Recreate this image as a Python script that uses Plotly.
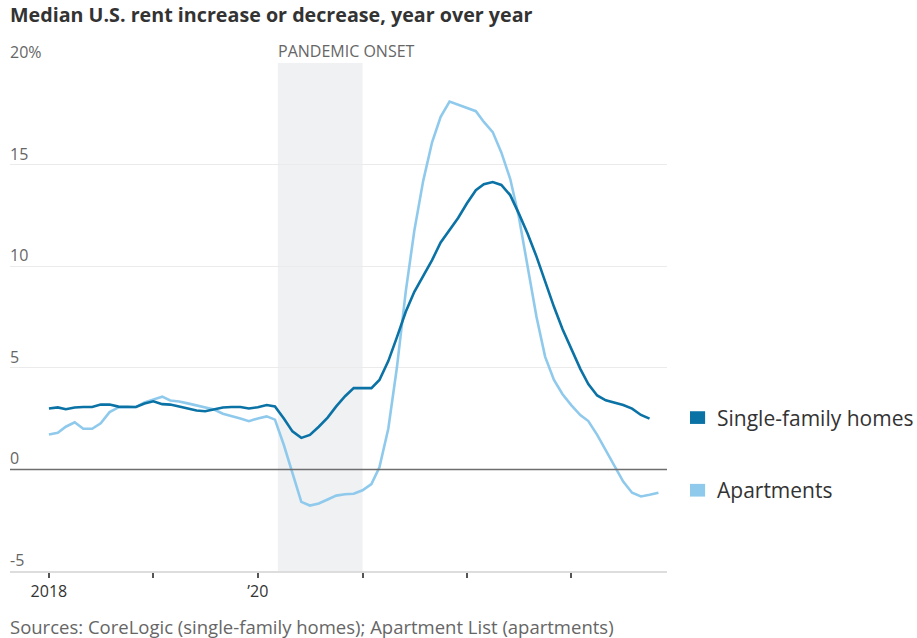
import pandas as pd
import plotly.graph_objects as go

# ---- Data (monthly, starting Jan 2018) ----
single_family = [
    3.0, 3.05, 2.96, 3.05, 3.07, 3.07, 3.19, 3.19, 3.09, 3.07, 3.07, 3.24,   # 2018
    3.35, 3.21, 3.19, 3.1, 3.0, 2.9, 2.86, 2.94, 3.05, 3.07, 3.07, 3.0,      # 2019
    3.06, 3.17, 3.1, 2.5, 1.87, 1.55, 1.7, 2.1, 2.55, 3.1, 3.6, 4.0,         # 2020
    4.0, 4.0, 4.4, 5.33, 6.5, 7.76, 8.74, 9.5, 10.3, 11.17, 11.8, 12.37,     # 2021
    13.1, 13.74, 14.03, 14.14, 14.0, 13.5, 12.6, 11.6, 10.47, 9.25, 8.0, 6.9,  # 2022
    5.9, 4.95, 4.2, 3.64, 3.4, 3.29, 3.17, 2.99, 2.68, 2.5,                  # 2023
]
apartments = [
    1.72, 1.8, 2.1, 2.32, 2.0, 2.0, 2.27, 2.82, 3.05, 3.07, 3.07, 3.3,       # 2018
    3.45, 3.58, 3.39, 3.34, 3.25, 3.14, 3.03, 2.95, 2.74, 2.64, 2.5, 2.37,   # 2019
    2.51, 2.61, 2.45, 1.2, -0.2, -1.6, -1.78, -1.68, -1.48, -1.29, -1.22, -1.2,  # 2020
    -1.03, -0.72, 0.1, 2.0, 5.0, 8.75, 11.75, 14.2, 16.1, 17.35, 18.1, 17.95,  # 2021
    17.8, 17.63, 17.1, 16.6, 15.6, 14.3, 12.45, 10.05, 7.5, 5.55, 4.4, 3.7,  # 2022
    3.15, 2.67, 2.38, 1.7, 0.95, 0.15, -0.6, -1.15, -1.33, -1.25, -1.15,     # 2023
]
series_names = ["Single-family homes", "Apartments"]
y_ticks = [20, 15, 10, 5, 0, -5]
y_tick_labels = ["20%", "15", "10", "5", "0", "-5"]
x_tick_years = ["2018-01-01", "2019-01-01", "2020-01-01", "2021-01-01", "2022-01-01", "2023-01-01"]
x_tick_labels = ["2018", "", "\u201920", "", "", ""]
pandemic_span = ["2020-03-11", "2021-01-01"]

dates_sf = pd.date_range("2018-01-01", periods=len(single_family), freq="MS")
dates_ap = pd.date_range("2018-01-01", periods=len(apartments), freq="MS")

DARK = "#0b72a5"
LIGHT = "#8fcaed"
TEXT = "#333333"
GRAY = "#666666"
FONT = "Open Sans, Lato, sans-serif"
NARROW = "Liberation Sans Narrow, " + FONT

fig = go.Figure()
fig.add_trace(go.Scatter(x=dates_ap, y=apartments, mode="lines", name=series_names[1],
                         line=dict(color=LIGHT, width=2.6), hoverinfo="skip"))
fig.add_trace(go.Scatter(x=dates_sf, y=single_family, mode="lines", name=series_names[0],
                         line=dict(color=DARK, width=2.6), hoverinfo="skip"))

# pandemic shading
fig.add_shape(type="rect", xref="x", yref="y", x0=pandemic_span[0], x1=pandemic_span[1],
              y0=-5, y1=20, fillcolor="#f0f1f3", line_width=0, layer="below")
fig.add_annotation(x=pandemic_span[0], y=20, xref="x", yref="y", text="PANDEMIC ONSET",
                   showarrow=False, xanchor="left", yanchor="bottom", xshift=-2, yshift=-1,
                   font=dict(family=NARROW, size=16, color=GRAY))

# y tick labels sitting above gridlines
for v, t in zip(y_ticks, y_tick_labels):
    fig.add_annotation(x=0, xref="paper", y=v, yref="y", text=t, showarrow=False,
                       xanchor="left", yanchor="bottom", yshift=-2, xshift=-2,
                       font=dict(family=NARROW, size=16, color=GRAY))

# zero line
fig.add_shape(type="line", xref="paper", yref="y", x0=0, x1=1, y0=0, y1=0,
              line=dict(color="#6e6e6e", width=1.5), layer="above")

# legend (custom)
legend_items = [(series_names[0], DARK, 0.302), (series_names[1], LIGHT, 0.159)]
for name, color, py in legend_items:
    fig.add_shape(type="rect", xref="paper", yref="paper", x0=1.035, x1=1.058,
                  y0=py - 0.0125, y1=py + 0.0125, fillcolor=color, line_width=0)
    fig.add_annotation(x=1.0757, xref="paper", y=py, yref="paper", text=name, showarrow=False,
                       xanchor="left", yanchor="middle", xshift=-2,
                       font=dict(family=FONT, size=21, color=TEXT))

# title & source
fig.add_annotation(x=0, y=1.095, xref="paper", yref="paper", xanchor="left", yanchor="middle",
                   xshift=-2, showarrow=False,
                   text="<b>Median U.S. rent increase or decrease, year over year</b>",
                   font=dict(family=FONT, size=19.7, color=TEXT))
fig.add_annotation(x=0, y=-0.11, xref="paper", yref="paper", xanchor="left", yanchor="middle",
                   xshift=-2, showarrow=False,
                   text="Sources: CoreLogic (single-family homes); Apartment List (apartments)",
                   font=dict(family=FONT, size=18.5, color=GRAY))

fig.update_layout(
    width=917, height=638,
    margin=dict(l=10, r=250, t=63, b=67),
    paper_bgcolor="white", plot_bgcolor="white",
    showlegend=False,
    xaxis=dict(type="date", range=["2017-08-18", "2023-12-01"],
               tickvals=x_tick_years, ticktext=x_tick_labels,
               ticks="outside", ticklen=5, tickcolor="#555555", tickwidth=1.5,
               showgrid=False, zeroline=False, showline=True, linecolor="#dddddd", linewidth=1.5,
               tickfont=dict(family=NARROW, size=16, color=TEXT),
               fixedrange=True),
    yaxis=dict(range=[-5, 20], tickvals=y_ticks, showticklabels=False,
               showgrid=True, gridcolor="#ebebeb", gridwidth=1.2, zeroline=False,
               showline=False, fixedrange=True),
)

fig.write_html("out.html")
